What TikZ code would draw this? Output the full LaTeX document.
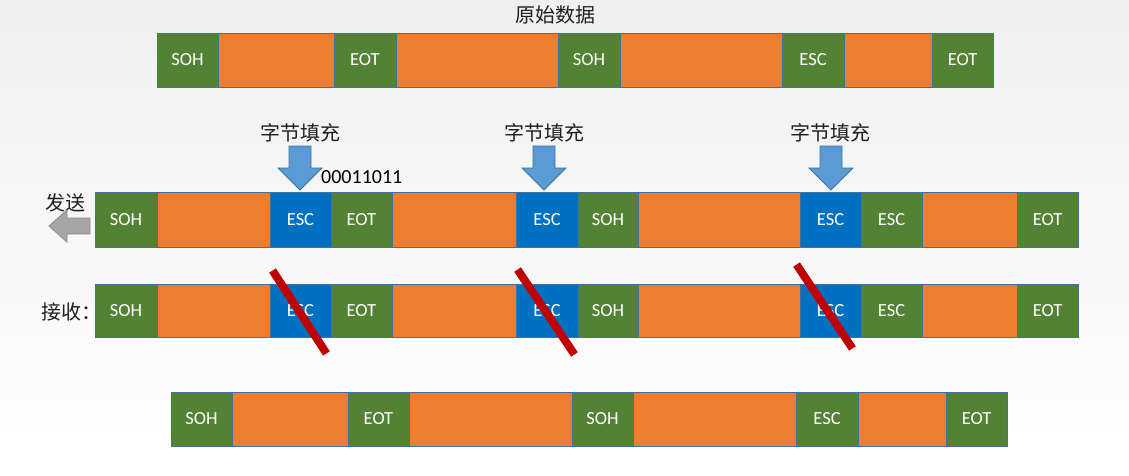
\documentclass[tikz,border=0pt]{standalone}
\usepackage{fontspec}
\setmainfont{Carlito}
\newfontfamily\cjk{Noto Sans CJK SC}
\definecolor{cellgreen}{HTML}{548235}
\definecolor{cellorange}{HTML}{ED7D31}
\definecolor{cellblue}{HTML}{0070C0}
\definecolor{celledge}{HTML}{41719C}
\definecolor{arrowblue}{HTML}{5B9BD5}
\definecolor{slashred}{HTML}{C00000}
\definecolor{sendgray}{HTML}{A6A6A6}
\definecolor{sendedge}{HTML}{8C8C8C}

% one frame cell: name, left x, right x, centre y, fill colour, label
\newcommand\cellat[6]{\node[cell, fill=#5, minimum width={#3-#2}] (#1) at ({(#2+#3)/2},#4) {#6};}

\tikzset{
  cell/.style={draw=celledge, line width=0.9pt, inner sep=0pt, minimum height=54pt,
    text=white, font=\fontsize{18.5}{18.5}\selectfont},
  cnlabel/.style={font=\cjk\fontsize{20}{20}\selectfont, text=black!88, inner sep=0pt},
  strike/.style={draw=slashred, line width=8pt},
  padarrow/.pic={
    \filldraw[fill=arrowblue, draw=celledge, line width=0.8pt]
      (-11,-44) -- (-11,-22) -- (-22,-22) -- (0,0) -- (22,-22) -- (11,-22) -- (11,-44) -- cycle;
  }
}

\begin{document}
\begin{tikzpicture}[x=1pt, y=-1pt]
\useasboundingbox (0,0) rectangle (1129,476);
\fill[top color=black!6, bottom color=white] (0,0) rectangle (1129,476);

% original data
\node[cnlabel] (title) at (555,15) {原始数据};
\begin{scope}
\cellat{a2}{218}{334}{60}{cellorange}{}
\cellat{a4}{396}{558}{60}{cellorange}{}
\cellat{a6}{620}{782}{60}{cellorange}{}
\cellat{a8}{844}{932}{60}{cellorange}{}
\cellat{a1}{157}{218}{60}{cellgreen}{SOH}
\cellat{a3}{334}{396}{60}{cellgreen}{EOT}
\cellat{a5}{558}{620}{60}{cellgreen}{SOH}
\cellat{a7}{782}{844}{60}{cellgreen}{ESC}
\cellat{a9}{932}{993}{60}{cellgreen}{EOT}
\end{scope}

% byte stuffing markers
\node[cnlabel] (fill1) at (300,133) {字节填充};
\node[cnlabel] (fill2) at (544,133) {字节填充};
\node[cnlabel] (fill3) at (830,133) {字节填充};
\pic at (300,190) {padarrow};
\pic at (544,190) {padarrow};
\pic at (831,190) {padarrow};
\node[anchor=west, inner sep=0pt, font=\fontsize{20}{20}\selectfont] (code) at (321,177) {00011011};

% sent frame
\node[cnlabel] (send) at (65,203) {发送};
\filldraw[fill=sendgray, draw=sendedge, line width=0.8pt]
  (49,226) -- (67,210) -- (67,218) -- (90,218) -- (90,234) -- (67,234) -- (67,242) -- cycle;
\begin{scope}[cell/.append style={minimum height=55pt}]
\cellat{s2}{157}{270}{219.5}{cellorange}{}
\cellat{s5}{392}{516}{219.5}{cellorange}{}
\cellat{s8}{638}{800}{219.5}{cellorange}{}
\cellat{s11}{922}{1017}{219.5}{cellorange}{}
\cellat{s1}{95}{157}{219.5}{cellgreen}{SOH}
\cellat{s3}{270}{331}{219.5}{cellblue}{ESC}
\cellat{s4}{331}{392}{219.5}{cellgreen}{EOT}
\cellat{s6}{516}{578}{219.5}{cellblue}{ESC}
\cellat{s7}{578}{638}{219.5}{cellgreen}{SOH}
\cellat{s9}{800}{861}{219.5}{cellblue}{ESC}
\cellat{s10}{861}{922}{219.5}{cellgreen}{ESC}
\cellat{s12}{1017}{1078}{219.5}{cellgreen}{EOT}
\end{scope}

% received frame
\node[cnlabel, anchor=west] (recv) at (41,312) {接收：};
\begin{scope}[cell/.append style={minimum height=53pt}]
\cellat{r2}{157}{270}{310.5}{cellorange}{}
\cellat{r5}{392}{516}{310.5}{cellorange}{}
\cellat{r8}{638}{800}{310.5}{cellorange}{}
\cellat{r11}{922}{1017}{310.5}{cellorange}{}
\cellat{r1}{95}{157}{310.5}{cellgreen}{SOH}
\cellat{r3}{270}{331}{310.5}{cellblue}{ESC}
\cellat{r4}{331}{392}{310.5}{cellgreen}{EOT}
\cellat{r6}{516}{578}{310.5}{cellblue}{ESC}
\cellat{r7}{578}{638}{310.5}{cellgreen}{SOH}
\cellat{r9}{800}{861}{310.5}{cellblue}{ESC}
\cellat{r10}{861}{922}{310.5}{cellgreen}{ESC}
\cellat{r12}{1017}{1078}{310.5}{cellgreen}{EOT}
\end{scope}
\draw[strike] ([shift={(3,-13)}]r3.north west) -- ([shift={(-5,16)}]r3.south east);
\draw[strike] ([shift={(2,-14)}]r6.north west) -- ([shift={(-4,17)}]r6.south east);
\draw[strike] ([shift={(-3,-19)}]r9.north west) -- ([shift={(-9,11)}]r9.south east);

% restored data
\begin{scope}
\cellat{b2}{232}{348}{419}{cellorange}{}
\cellat{b4}{409}{572}{419}{cellorange}{}
\cellat{b6}{633}{796}{419}{cellorange}{}
\cellat{b8}{858}{946}{419}{cellorange}{}
\cellat{b1}{171}{232}{419}{cellgreen}{SOH}
\cellat{b3}{348}{409}{419}{cellgreen}{EOT}
\cellat{b5}{572}{633}{419}{cellgreen}{SOH}
\cellat{b7}{796}{858}{419}{cellgreen}{ESC}
\cellat{b9}{946}{1007}{419}{cellgreen}{EOT}
\end{scope}
\end{tikzpicture}
\end{document}
